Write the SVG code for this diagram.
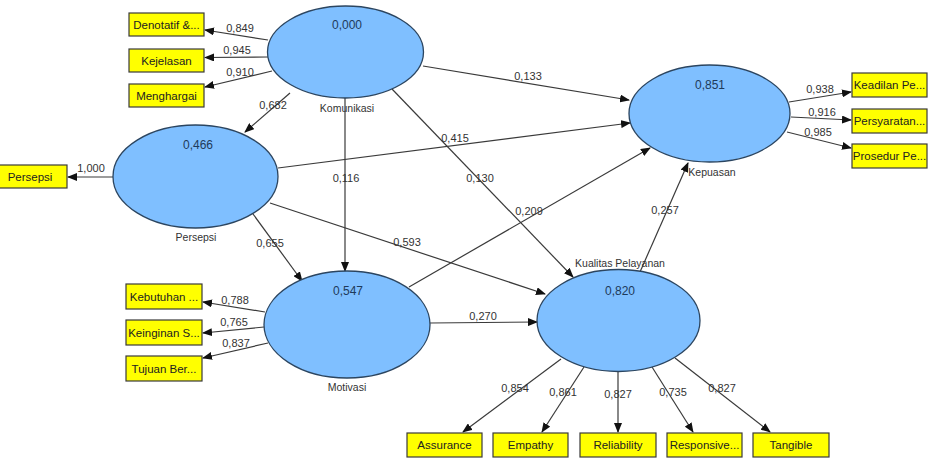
<svg xmlns="http://www.w3.org/2000/svg" width="937" height="466" viewBox="0 0 937 466">
  <style>
    .lv { fill: #7fbfff; stroke: #2b4560; stroke-width: 1.3; }
    .ind { fill: #ffff00; stroke: #3a3a3a; stroke-width: 1.2; }
    .edge { stroke: #3a3a3a; stroke-width: 1.2; fill: none; marker-end: url(#arr); }
    .r2 { font-family: "Liberation Sans", Arial, sans-serif; font-size: 12px; fill: #1e3a5a; text-anchor: middle; }
    .nm { font-family: "Liberation Sans", Arial, sans-serif; font-size: 10.5px; fill: #333; text-anchor: middle; }
    .bx { font-family: "Liberation Sans", Arial, sans-serif; font-size: 11.5px; fill: #222; text-anchor: middle; }
    .w { font-family: "Liberation Sans", Arial, sans-serif; font-size: 11px; fill: #333; text-anchor: middle; }
  </style>
  <defs>
    <marker id="arr" markerWidth="10" markerHeight="8" refX="9" refY="4" orient="auto" markerUnits="userSpaceOnUse">
      <path d="M0,0 L10,4 L0,8 Z" fill="#111"/>
    </marker>
  </defs>
  <rect width="937" height="466" fill="#fff"/>

  <!-- connectors: structural paths and outer loadings -->
  <g id="connectors">
    <!-- Komunikasi indicators -->
    <line class="edge" x1="268" y1="40" x2="205" y2="30"/>
    <line class="edge" x1="268" y1="57" x2="205" y2="57.5"/>
    <line class="edge" x1="272" y1="71" x2="205" y2="87"/>
    <!-- Kepuasan indicators -->
    <line class="edge" x1="789" y1="102" x2="851" y2="92"/>
    <line class="edge" x1="791" y1="117" x2="851" y2="120"/>
    <line class="edge" x1="787" y1="132" x2="851" y2="148"/>
    <!-- Persepsi indicator -->
    <line class="edge" x1="113" y1="177" x2="68" y2="177"/>
    <!-- Motivasi indicators -->
    <line class="edge" x1="265" y1="312" x2="203" y2="302"/>
    <line class="edge" x1="264" y1="327" x2="203" y2="333"/>
    <line class="edge" x1="268" y1="343" x2="203" y2="358"/>
    <!-- Kualitas Pelayanan indicators -->
    <line class="edge" x1="561" y1="359" x2="463" y2="432"/>
    <line class="edge" x1="584" y1="367" x2="542" y2="432"/>
    <line class="edge" x1="618" y1="371.5" x2="618" y2="432"/>
    <line class="edge" x1="652" y1="367" x2="693" y2="432"/>
    <line class="edge" x1="675" y1="358" x2="770" y2="432"/>
    <!-- structural paths -->
    <line class="edge" x1="423" y1="66" x2="629" y2="100"/>
    <line class="edge" x1="290" y1="93" x2="245" y2="132"/>
    <line class="edge" x1="345" y1="98" x2="345" y2="271"/>
    <line class="edge" x1="392" y1="89" x2="573" y2="277"/>
    <line class="edge" x1="278" y1="168" x2="630" y2="123"/>
    <line class="edge" x1="253" y1="214" x2="302" y2="281"/>
    <line class="edge" x1="270" y1="203" x2="545" y2="294"/>
    <line class="edge" x1="409" y1="287" x2="650" y2="148"/>
    <line class="edge" x1="430" y1="323" x2="537" y2="322"/>
    <line class="edge" x1="640" y1="272" x2="688" y2="163"/>
  </g>

  <!-- coefficient labels -->
  <g id="weights">
    <text class="w" x="240" y="32">0,849</text>
    <text class="w" x="237" y="54">0,945</text>
    <text class="w" x="240" y="76">0,910</text>
    <text class="w" x="820" y="93">0,938</text>
    <text class="w" x="822" y="116">0,916</text>
    <text class="w" x="818" y="136">0,985</text>
    <text class="w" x="91" y="172">1,000</text>
    <text class="w" x="235" y="304">0,788</text>
    <text class="w" x="234" y="326">0,765</text>
    <text class="w" x="236" y="347">0,837</text>
    <text class="w" x="515" y="392">0,854</text>
    <text class="w" x="563" y="396">0,861</text>
    <text class="w" x="618" y="398">0,827</text>
    <text class="w" x="673" y="396">0,735</text>
    <text class="w" x="722" y="392">0,827</text>
    <text class="w" x="528" y="80">0,133</text>
    <text class="w" x="273" y="109">0,682</text>
    <text class="w" x="346" y="182">0,116</text>
    <text class="w" x="480" y="182">0,130</text>
    <text class="w" x="455" y="142">0,415</text>
    <text class="w" x="270" y="247">0,655</text>
    <text class="w" x="407" y="246">0,593</text>
    <text class="w" x="529" y="215">0,209</text>
    <text class="w" x="483" y="320">0,270</text>
    <text class="w" x="665" y="214">0,257</text>
  </g>

  <!-- latent variables -->
  <g id="komunikasi">
    <ellipse class="lv" cx="345.5" cy="52" rx="78" ry="46"/>
    <text class="r2" x="347" y="29">0,000</text>
    <text class="nm" x="347" y="112">Komunikasi</text>
  </g>
  <g id="persepsi">
    <ellipse class="lv" cx="195.5" cy="176.5" rx="82.5" ry="51.5"/>
    <text class="r2" x="198" y="149">0,466</text>
    <text class="nm" x="196" y="241">Persepsi</text>
  </g>
  <g id="motivasi">
    <ellipse class="lv" cx="347" cy="324.5" rx="83" ry="53.5"/>
    <text class="r2" x="348" y="295">0,547</text>
    <text class="nm" x="347" y="391">Motivasi</text>
  </g>
  <g id="kepuasan">
    <ellipse class="lv" cx="709.5" cy="113.5" rx="80.5" ry="48.5"/>
    <text class="r2" x="710" y="89">0,851</text>
    <text class="nm" x="712" y="176">Kepuasan</text>
  </g>
  <g id="kualitas-pelayanan">
    <ellipse class="lv" cx="618.5" cy="320.5" rx="81.5" ry="51"/>
    <text class="r2" x="620" y="295">0,820</text>
    <text class="nm" x="620" y="267">Kualitas Pelayanan</text>
  </g>

  <!-- indicators -->
  <g id="ind-denotatif"><rect class="ind" x="129" y="13" width="75" height="23"/><text class="bx" x="166.5" y="28.5">Denotatif &amp;...</text></g>
  <g id="ind-kejelasan"><rect class="ind" x="129" y="49" width="75" height="23"/><text class="bx" x="166.5" y="64.5">Kejelasan</text></g>
  <g id="ind-menghargai"><rect class="ind" x="129" y="84" width="75" height="23"/><text class="bx" x="166.5" y="99.5">Menghargai</text></g>
  <g id="ind-keadilan"><rect class="ind" x="852" y="73" width="75" height="24"/><text class="bx" x="889.5" y="89">Keadilan Pe...</text></g>
  <g id="ind-persyaratan"><rect class="ind" x="852" y="109" width="75" height="24"/><text class="bx" x="889.5" y="125">Persyaratan...</text></g>
  <g id="ind-prosedur"><rect class="ind" x="852" y="144" width="75" height="24"/><text class="bx" x="889.5" y="160">Prosedur Pe...</text></g>
  <g id="ind-persepsi"><rect class="ind" x="-1" y="165" width="68" height="23"/><text class="bx" x="30" y="180.5">Persepsi</text></g>
  <g id="ind-kebutuhan"><rect class="ind" x="126" y="284" width="76" height="25"/><text class="bx" x="164" y="300.5">Kebutuhan ...</text></g>
  <g id="ind-keinginan"><rect class="ind" x="126" y="320" width="76" height="25"/><text class="bx" x="164" y="336.5">Keinginan S...</text></g>
  <g id="ind-tujuan"><rect class="ind" x="126" y="356" width="76" height="25"/><text class="bx" x="164" y="372.5">Tujuan Ber...</text></g>
  <g id="ind-assurance"><rect class="ind" x="407" y="433" width="75" height="24"/><text class="bx" x="444.5" y="449">Assurance</text></g>
  <g id="ind-empathy"><rect class="ind" x="493" y="433" width="75" height="24"/><text class="bx" x="530.5" y="449">Empathy</text></g>
  <g id="ind-reliability"><rect class="ind" x="580" y="433" width="76" height="24"/><text class="bx" x="618" y="449">Reliability</text></g>
  <g id="ind-responsive"><rect class="ind" x="667" y="433" width="75" height="24"/><text class="bx" x="704.5" y="449">Responsive...</text></g>
  <g id="ind-tangible"><rect class="ind" x="753" y="433" width="76" height="24"/><text class="bx" x="791" y="449">Tangible</text></g>
</svg>
